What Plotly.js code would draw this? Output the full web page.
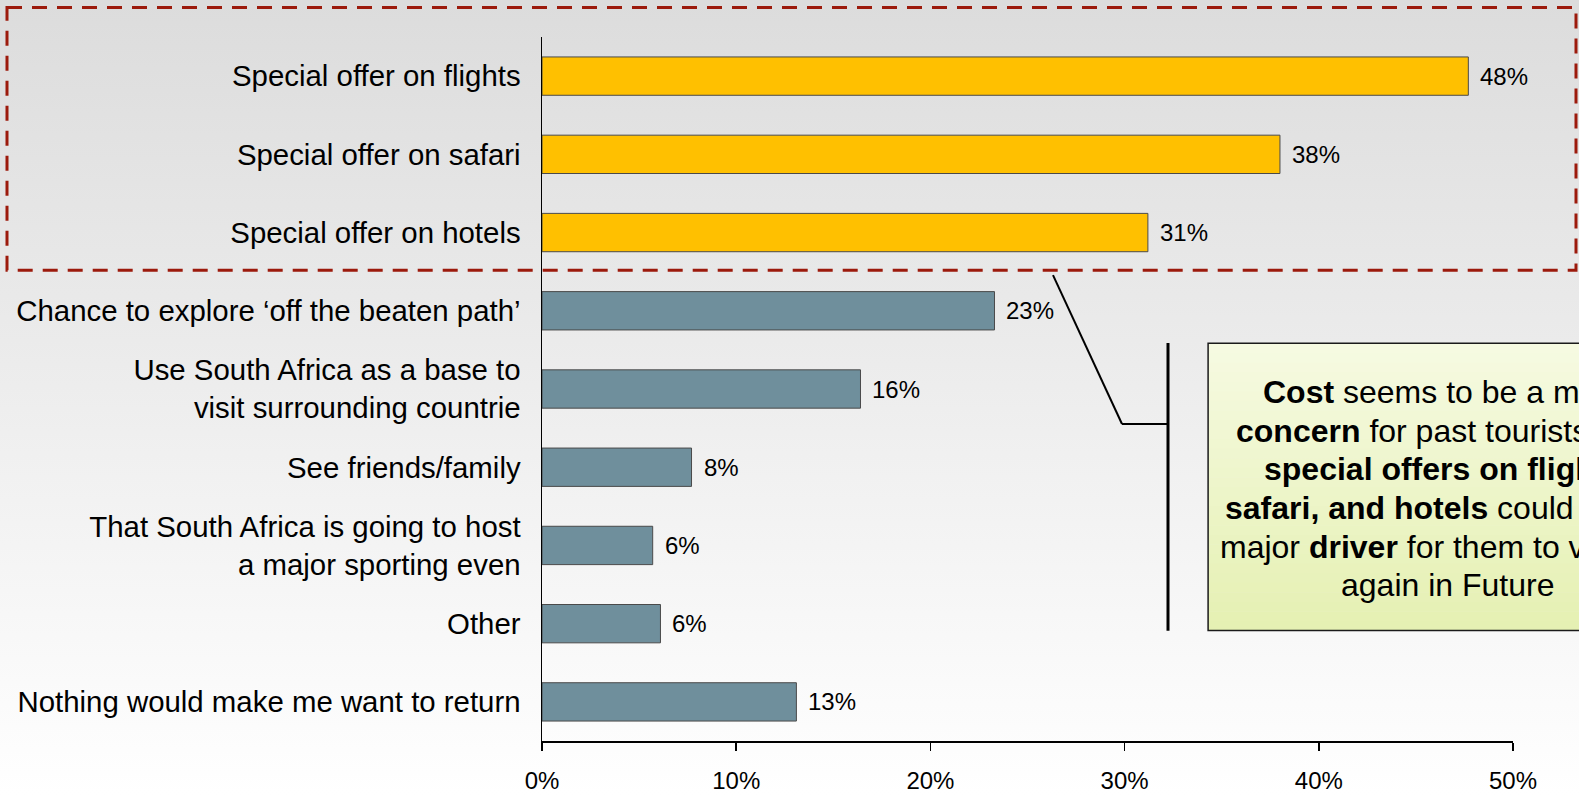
<!DOCTYPE html>
<html>
<head>
<meta charset="utf-8">
<script src="https://cdn.plot.ly/plotly-3.0.1.min.js"></script>
<style>
html,body{margin:0;padding:0;}
body{width:1579px;height:795px;overflow:hidden;background:linear-gradient(to bottom,#dcdcdc 0%,#ffffff 100%);}
#chart{width:1579px;height:795px;}
</style>
</head>
<body>
<div id="chart"></div>
<script>
// ---- data ----
const categories = [
  "Special offer on flights",
  "Special offer on safari",
  "Special offer on hotels",
  "Chance to explore \u2018off the beaten path\u2019",
  "Use South Africa as a base to<br>visit surrounding countrie",
  "See friends/family",
  "That South Africa is going to host<br>a major sporting even",
  "Other",
  "Nothing would make me want to return"
];
const values = [47.7, 38.0, 31.2, 23.3, 16.4, 7.7, 5.7, 6.1, 13.1];
const valueLabels = ["48%", "38%", "31%", "23%", "16%", "8%", "6%", "6%", "13%"];
const barGroup = ["offer", "offer", "offer", "other", "other", "other", "other", "other", "other"];
const xTickVals = [0, 10, 20, 30, 40, 50];
const xTickText = ["0%", "10%", "20%", "30%", "40%", "50%"];
const calloutLines = [
  "<b>Cost</b> seems to be a major",
  "<b>concern</b> for past tourists, and",
  "<b>special offers on flights,</b>",
  "<b>safari, and hotels</b> could be the",
  "major <b>driver</b> for them to visit SA",
  "again in Future"
];

// ---- styling ----
const FONT = "Liberation Sans, Arial, Helvetica, sans-serif";
const groupColor = {offer: "#FFC000", other: "#6F8F9C"};
const W = 1579, H = 795;
const M = {l: 541.7, r: 66.3, t: 36.6, b: 53.6};
const pw = W - M.l - M.r, ph = H - M.t - M.b;
const px = x => (x - M.l) / pw;
const py = y => 1 - (y - M.t) / ph;

const trace = {
  type: "bar",
  orientation: "h",
  x: values,
  y: categories,
  marker: {
    color: barGroup.map(g => groupColor[g]),
    line: {color: "#4a4a4a", width: 1}
  },
  hoverinfo: "skip",
  showlegend: false
};

const shapes = [];
// callout gradient bands
const bx0 = 1207.8, bx1 = 1700, by0 = 343.3, by1 = 630.7;
const N = 30;
const c0 = [246, 250, 226], c1 = [229, 240, 178];
for (let i = 0; i < N; i++) {
  const f = (i + 0.5) / N;
  const c = c0.map((v, k) => Math.round(v + (c1[k] - v) * f));
  shapes.push({
    type: "rect", xref: "paper", yref: "paper", layer: "below",
    x0: px(bx0), x1: px(bx1),
    y0: py(by0 + (by1 - by0) * i / N), y1: py(by0 + (by1 - by0) * (i + 1) / N + 0.5),
    fillcolor: "rgb(" + c.join(",") + ")", line: {width: 0}
  });
}
shapes.push({
  type: "rect", xref: "paper", yref: "paper",
  x0: px(bx0), x1: px(bx1), y0: py(by0), y1: py(by1),
  line: {color: "#1a1a1a", width: 1.5}
});
// dashed highlight box
shapes.push({
  type: "rect", xref: "paper", yref: "paper",
  x0: px(6.7), x1: px(1575.7), y0: py(7), y1: py(270),
  line: {color: "#9C1A0C", width: 3, dash: "15px,10px"}
});
// connector lines
shapes.push({type: "line", xref: "paper", yref: "paper",
  x0: px(1052.7), y0: py(275), x1: px(1121.7), y1: py(424),
  line: {color: "#000", width: 2}});
shapes.push({type: "line", xref: "paper", yref: "paper",
  x0: px(1121.7), y0: py(424), x1: px(1167.7), y1: py(424),
  line: {color: "#000", width: 2}});
shapes.push({type: "line", xref: "paper", yref: "paper",
  x0: px(1167.7), y0: py(343), x1: px(1167.7), y1: py(631),
  line: {color: "#000", width: 3}});

const annotations = [];
values.forEach((v, i) => {
  annotations.push({
    x: v, y: categories[i], xref: "x", yref: "y",
    text: valueLabels[i], showarrow: false,
    xanchor: "left", yanchor: "middle", xshift: 10,
    font: {family: FONT, size: 24, color: "#000"}
  });
});
const baselines = [403.3, 441.6, 480.2, 519.5, 558.0, 596.5];
calloutLines.forEach((t, i) => {
  annotations.push({
    x: px(1447.5), y: py(baselines[i] - 11), xref: "paper", yref: "paper",
    text: t, showarrow: false, xanchor: "center", yanchor: "middle",
    font: {family: FONT, size: 32, color: "#000"}
  });
});

const layout = {
  width: W, height: H,
  margin: M,
  paper_bgcolor: "rgba(0,0,0,0)",
  plot_bgcolor: "rgba(0,0,0,0)",
  font: {family: FONT, color: "#000"},
  bargap: 0.51,
  xaxis: {
    range: [0, 50], tickvals: xTickVals, ticktext: xTickText,
    showgrid: false, zeroline: false,
    showline: true, linecolor: "#000", linewidth: 1.5,
    ticks: "outside", ticklen: 8, tickwidth: 1.5, tickcolor: "#000",
    tickfont: {family: FONT, size: 24, color: "#000"},
    ticklabelstandoff: 10,
    fixedrange: true
  },
  yaxis: {
    type: "category", categoryorder: "array", categoryarray: categories,
    range: [8.5, -0.5], autorange: false,
    showgrid: false, zeroline: false,
    showline: true, linecolor: "#000", linewidth: 1.5,
    ticks: "", tickfont: {family: FONT, size: 29.4, color: "#000"},
    ticklabelstandoff: 14,
    fixedrange: true
  },
  shapes: shapes,
  annotations: annotations
};

Plotly.newPlot("chart", [trace], layout, {displayModeBar: false, staticPlot: true});
</script>
</body>
</html>
